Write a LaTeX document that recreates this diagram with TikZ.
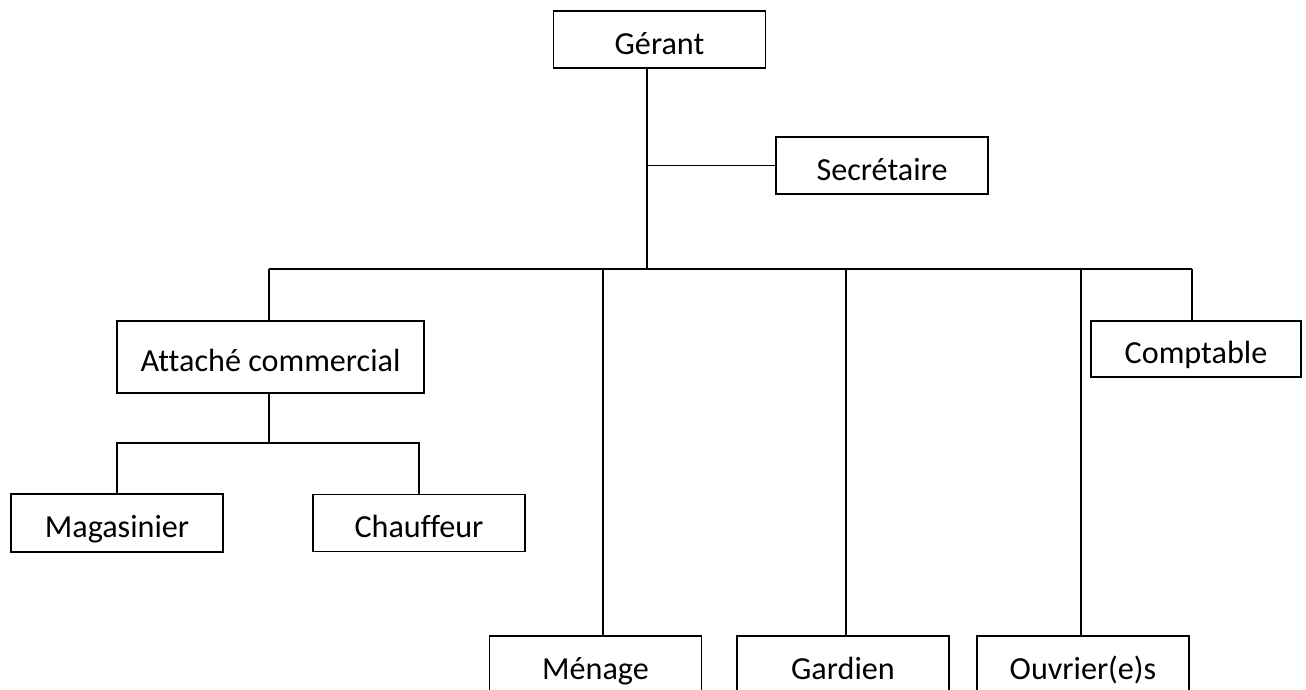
\documentclass[tikz,border=0pt]{standalone}
\usepackage{fontspec}
\setmainfont{Carlito}[Ligatures=NoCommon]
\usetikzlibrary{positioning}

\begin{document}
\begin{tikzpicture}[x=0.02cm,y=-0.02cm,line width=1pt,
  post/.style={draw,minimum width=4.24cm,minimum height=1.14cm,inner sep=0pt,
    text height=21.2pt,text depth=4.6pt,font=\fontsize{18.3}{22}\selectfont}]
  \useasboundingbox (0,0) rectangle (1306,690);
  \clip (0,0) rectangle (1306,690);
  % top of the chart
  \node[post] (ger) at (659.5,39.5) {Gérant};
  \node[post] (sec) at (882,165.5) {Secrétaire};
  \coordinate (spine) at (647,269);
  \draw (ger.south -| spine) -- (spine);
  \draw (sec.west) -- (sec.west -| spine);
  % second level
  \node[post,minimum width=6.14cm,minimum height=1.44cm] (att) at (270.5,357) {Attaché commercial};
  \node[post,minimum width=4.2cm,minimum height=1.12cm] (cpt) at (1196,349) {Comptable};
  \coordinate (dm) at (603,269);
  \coordinate (dg) at (846,269);
  \coordinate (dv) at (1081,269);
  \coordinate (dc) at (1192,269);
  \coordinate (da) at (269,269);
  \draw (da) -- (dc);
  \draw (da) -- (da |- att.north);
  \draw (dc) -- (dc |- cpt.north);
  % under the commercial attache
  \node[post,minimum height=1.16cm] (mag) at (117,523) {Magasinier};
  \node[post] (chf) at (419,523) {Chauffeur};
  \coordinate (sub) at (269,443);
  \draw (da |- att.south) -- (sub);
  \draw (mag.north) |- (sub) -| (chf.north);
  % bottom row
  \node[post] (men) at (595.5,664.5) {Ménage};
  \node[post] (gar) at (843,664.5) {Gardien};
  \node[post] (ouv) at (1083,664.5) {Ouvrier(e)s};
  \draw (dm) -- (dm |- men.north);
  \draw (dg) -- (dg |- gar.north);
  \draw (dv) -- (dv |- ouv.north);
\end{tikzpicture}
\end{document}
